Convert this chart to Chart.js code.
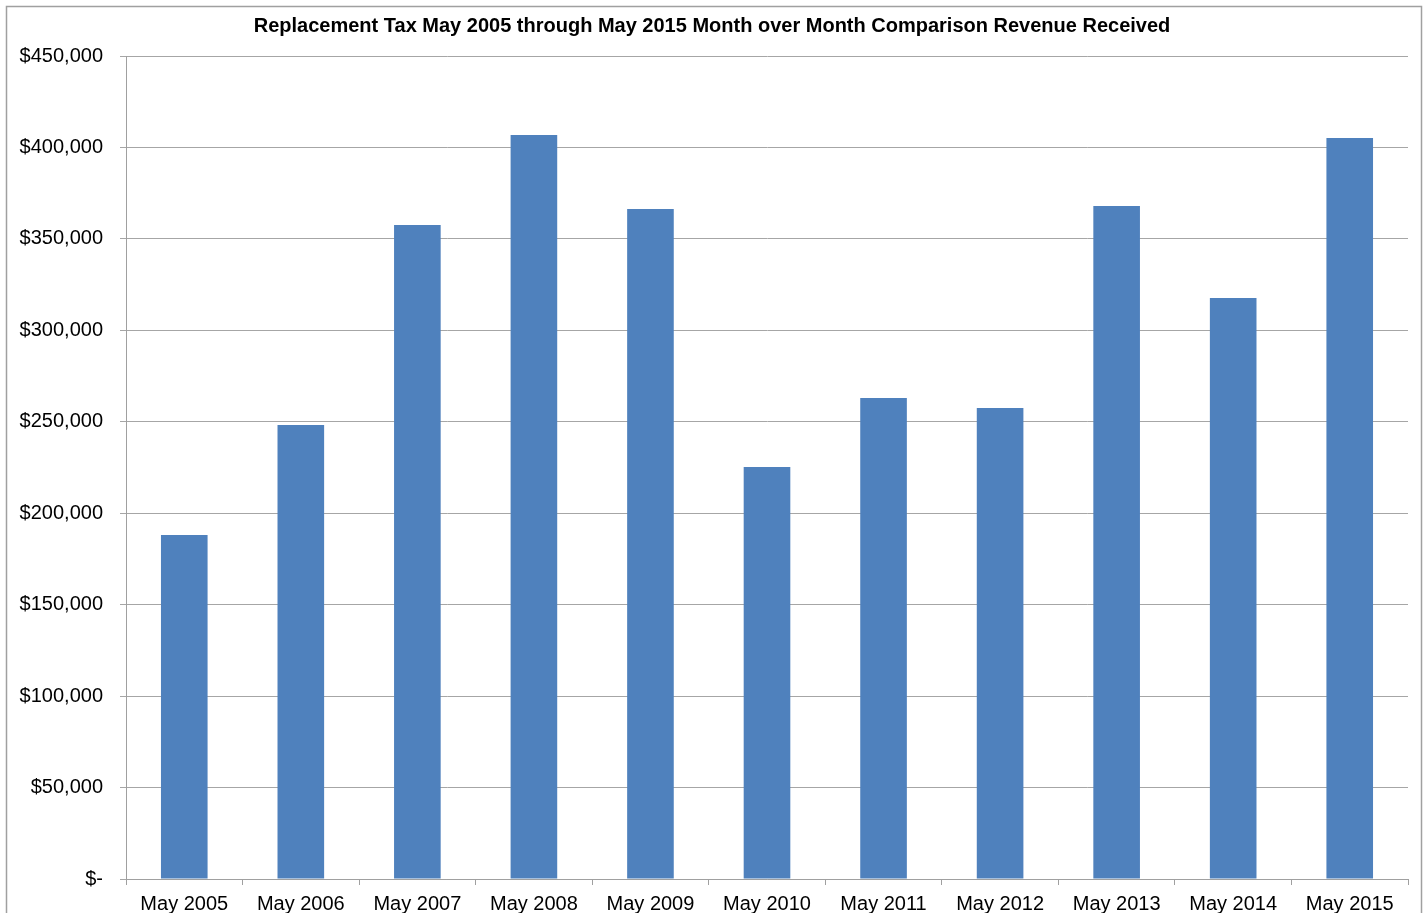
<!DOCTYPE html>
<html>
<head>
<meta charset="utf-8">
<script src="https://cdn.jsdelivr.net/npm/chart.js@4/dist/chart.umd.min.js"></script>
<style>
  html, body { margin: 0; padding: 0; background: #fff; }
  #wrap { width: 1424px; height: 913px; }
</style>
</head>
<body>
<div id="wrap"><canvas id="c" width="1424" height="913"></canvas></div>
<script>
const categories = ["May 2005","May 2006","May 2007","May 2008","May 2009","May 2010","May 2011","May 2012","May 2013","May 2014","May 2015"];
const revenue = [188100, 248200, 357600, 406800, 366300, 225300, 263000, 257500, 368000, 317700, 405200];
const chartTitle = "Replacement Tax May 2005 through May 2015 Month over Month Comparison Revenue Received";

const borderPlugin = {
  id: 'outerBorder',
  beforeDraw(chart) {
    const ctx = chart.ctx;
    ctx.save();
    ctx.fillStyle = '#ffffff';
    ctx.fillRect(0, 0, chart.width, chart.height);
    ctx.strokeStyle = '#A0A0A0';
    ctx.lineWidth = 1.5;
    ctx.strokeRect(6.5, 6.5, 1415, 930);
    ctx.restore();
  }
};

new Chart(document.getElementById('c'), {
  type: 'bar',
  data: {
    labels: categories,
    datasets: [{
      data: revenue,
      backgroundColor: '#4F81BD',
      borderWidth: 0,
      barPercentage: 0.4,
      categoryPercentage: 1.0
    }]
  },
  options: {
    responsive: false,
    animation: false,
    layout: { padding: { left: 16, right: 16, top: 0, bottom: 0 } },
    plugins: {
      legend: { display: false },
      tooltip: { enabled: false },
      title: {
        display: true,
        text: chartTitle,
        color: '#000',
        font: { family: 'Liberation Sans, Arial, sans-serif', size: 20, weight: 'bold' },
        padding: { top: 14, bottom: 18 }
      }
    },
    scales: {
      x: {
        grid: { display: true, drawOnChartArea: false, drawTicks: true, tickLength: 6, color: '#A0A0A0', offset: true },
        border: { display: true, color: '#A0A0A0', width: 1 },
        ticks: {
          color: '#000',
          font: { family: 'Liberation Sans, Arial, sans-serif', size: 20 },
          padding: 7,
          maxRotation: 0,
          autoSkip: false
        },
        afterFit(scale) { scale.height = 34; }
      },
      y: {
        min: 0,
        max: 450000,
        grid: { color: '#A6A6A6', tickLength: 6, drawTicks: true },
        border: { display: true, color: '#A0A0A0', width: 1 },
        ticks: {
          stepSize: 50000,
          color: '#000',
          padding: 17,
          font: { family: 'Liberation Sans, Arial, sans-serif', size: 20 },
          callback(v) { return v === 0 ? '$-' : '$' + v.toLocaleString('en-US'); }
        },
        afterFit(scale) { scale.width = 110; }
      }
    }
  },
  plugins: [borderPlugin]
});
</script>
</body>
</html>
